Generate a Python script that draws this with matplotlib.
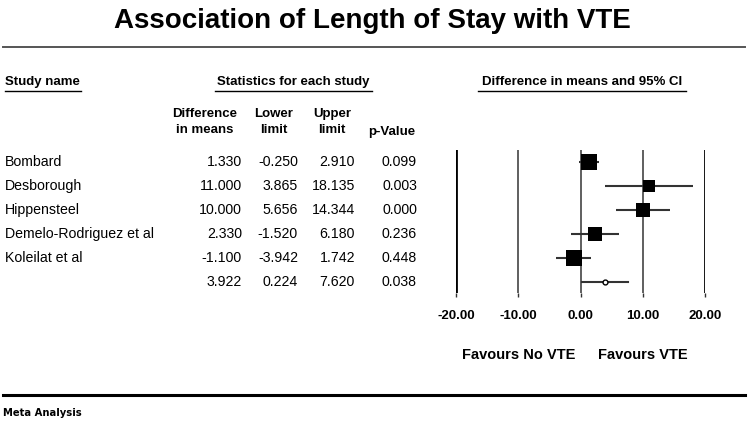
import matplotlib
matplotlib.use("Agg")
import matplotlib.pyplot as plt
from matplotlib.lines import Line2D
from matplotlib.transforms import blended_transform_factory

study_names = [
    "Bombard",
    "Desborough",
    "Hippensteel",
    "Demelo-Rodriguez et al",
    "Koleilat et al",
    "",
]
diff_means = [1.330, 11.000, 10.000, 2.330, -1.100, 3.922]
lower_limit = [-0.250, 3.865, 5.656, -1.520, -3.942, 0.224]
upper_limit = [2.910, 18.135, 14.344, 6.180, 1.742, 7.620]
p_values = [0.099, 0.003, 0.000, 0.236, 0.448, 0.038]
weights = [25.7, 13.4, 18.1, 19.2, 23.6]  # relative weights (box area)
x_ticks = [-20, -10, 0, 10, 20]

W, H = 749, 429
fig = plt.figure(figsize=(W / 100, H / 100), dpi=100)
plt.rcParams["font.family"] = ["Liberation Sans", "DejaVu Sans"]


def fx(px):
    return px / W


def fy(py):
    return 1 - py / H


def hline(x0, x1, y, lw=1.0, color="black"):
    fig.add_artist(Line2D([fx(x0), fx(x1)], [fy(y), fy(y)], lw=lw, color=color,
                          transform=fig.transFigure))


# title and rules
fig.text(fx(372), fy(21), "Association of Length of Stay with VTE", ha="center",
         va="center", fontsize=20, fontweight="bold")
hline(3, 745, 47, lw=1.4, color="#555555")
hline(3, 745, 395, lw=2.2, color="black")
fig.text(fx(3), fy(413), "Meta Analysis", ha="left", va="center", fontsize=8,
         fontweight="bold", family="DejaVu Sans", fontstretch="condensed")

# group headers
hdr = dict(va="center", fontsize=9.5, fontweight="bold")
fig.text(fx(5), fy(82), "Study name", ha="left", **hdr)
hline(5, 81, 91, lw=1.0)
fig.text(fx(293), fy(82), "Statistics for each study", ha="center", **hdr)
hline(215, 372, 91, lw=1.0)
fig.text(fx(582), fy(82), "Difference in means and 95% CI", ha="center", **hdr)
hline(478, 686, 91, lw=1.0)

fig.text(fx(205), fy(122), "Difference\nin means", ha="center", linespacing=1.5, **hdr)
fig.text(fx(274), fy(122), "Lower\nlimit", ha="center", linespacing=1.5, **hdr)
fig.text(fx(332), fy(122), "Upper\nlimit", ha="center", linespacing=1.5, **hdr)
fig.text(fx(392), fy(132), "p-Value", ha="center", **hdr)

# forest plot axes
ax = fig.add_axes([fx(456), fy(293), fx(705) - fx(456), (293 - 150) / H])
ax.set_xlim(-20, 20)
ax.set_ylim(5.46, -0.5)
for s in ax.spines.values():
    s.set_visible(False)
ax.set_yticks([])
ax.set_xticks(x_ticks)
ax.set_xticklabels([f"{t:.2f}" for t in x_ticks], fontsize=9.5, fontweight="bold")
ax.tick_params(axis="x", length=3, width=1.0, pad=9, color="#333333")
for t in x_ticks:
    if abs(t) == 20:
        ax.axvline(t, color="black", lw=2.0)
    else:
        ax.axvline(t, color="#444444", lw=1.2)

rows = list(range(len(study_names)))
for i in rows[:-1]:
    ax.plot([lower_limit[i], upper_limit[i]], [i, i], color="#333333", lw=1.5,
            solid_capstyle="butt")
    ax.plot(diff_means[i], i, marker="s", color="black",
            markersize=2.41 * weights[i] ** 0.5, markeredgewidth=0)
i = rows[-1]
ax.plot([lower_limit[i], upper_limit[i]], [i, i], color="#333333", lw=1.5)
ax.plot(diff_means[i], i, marker="o", markersize=3.5, markerfacecolor="white",
        markeredgecolor="black", markeredgewidth=1.0)

ftr = blended_transform_factory(ax.transData, fig.transFigure)
ax.text(-10, fy(355), "Favours No VTE", transform=ftr, ha="center", va="center",
        fontsize=10.5, fontweight="bold")
ax.text(10, fy(355), "Favours VTE", transform=ftr, ha="center", va="center",
        fontsize=10.5, fontweight="bold")

# table rows
rtr = blended_transform_factory(fig.transFigure, ax.transData)
cell = dict(transform=rtr, va="center", fontsize=10.2, clip_on=False)
for i in rows:
    ax.text(fx(5), i, study_names[i], ha="left", **cell)
    ax.text(fx(242), i, f"{diff_means[i]:.3f}", ha="right", **cell)
    ax.text(fx(298), i, f"{lower_limit[i]:.3f}", ha="right", **cell)
    ax.text(fx(355), i, f"{upper_limit[i]:.3f}", ha="right", **cell)
    ax.text(fx(417), i, f"{p_values[i]:.3f}", ha="right", **cell)

fig.savefig("out.png", dpi=100)
